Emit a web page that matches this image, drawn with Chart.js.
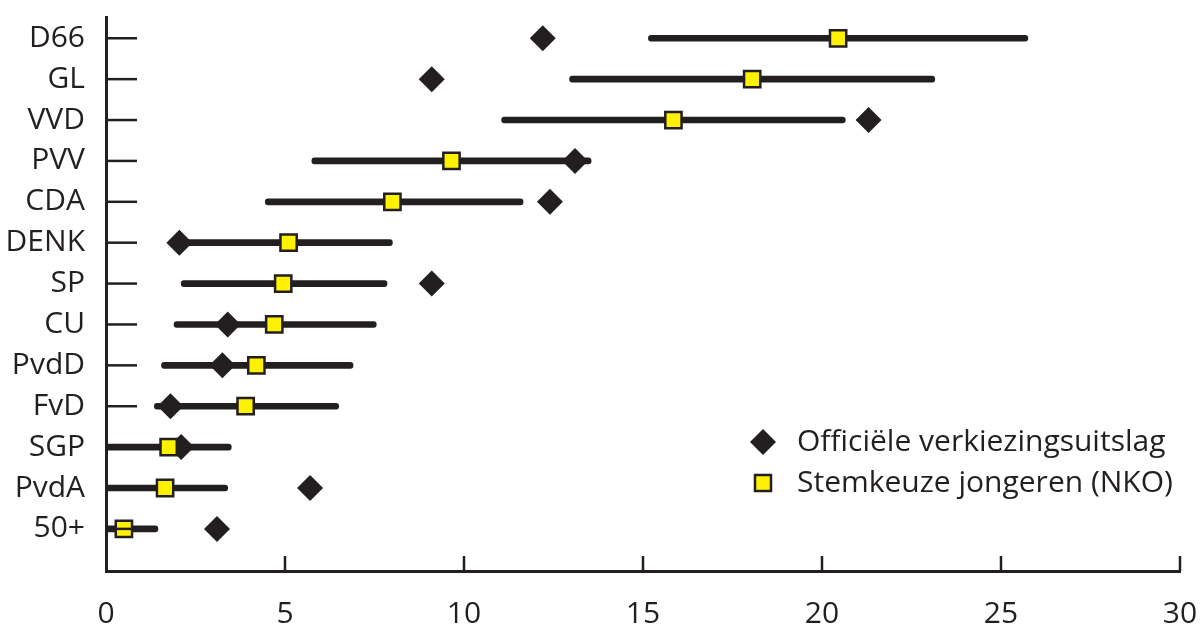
<!DOCTYPE html>
<html>
<head>
<meta charset="utf-8">
<script src="https://cdn.jsdelivr.net/npm/chart.js@4/dist/chart.umd.min.js"></script>
<style>
  html, body { margin: 0; padding: 0; background: #ffffff; }
  #wrap { width: 1200px; height: 626px; }
</style>
</head>
<body>
<div id="wrap"><canvas id="chart"></canvas></div>
<script>
// parties, top to bottom
const parties = ["D66", "GL", "VVD", "PVV", "CDA", "DENK", "SP", "CU", "PvdD", "FvD", "SGP", "PvdA", "50+"];
// official election result (%)
const officieel = [12.2, 9.1, 21.3, 13.1, 12.4, 2.05, 9.1, 3.4, 3.25, 1.8, 2.1, 5.7, 3.1];
// vote choice of young people, NKO (%)
const jongeren = [20.45, 18.05, 15.85, 9.65, 8.0, 5.1, 4.95, 4.7, 4.2, 3.9, 1.75, 1.65, 0.5];
// confidence interval of the NKO estimate
const ciLow = [15.15, 12.95, 11.05, 5.75, 4.45, 2.05, 2.1, 1.9, 1.55, 1.35, 0.0, 0.0, 0.0];
const ciHigh = [25.75, 23.15, 20.65, 13.55, 11.65, 8.0, 7.85, 7.55, 6.9, 6.5, 3.5, 3.4, 1.45];
const xTicks = [0, 5, 10, 15, 20, 25, 30];

const INK = '#231f20';
const YELLOW = '#fff200';
const FONT = '"Open Sans", "Noto Sans", sans-serif';

// ticks drawn inward from the axes
const innerTicksPlugin = {
  id: 'innerTicks',
  afterDraw(chart) {
    const { ctx, chartArea, scales } = chart;
    ctx.save();
    ctx.strokeStyle = INK;
    ctx.lineWidth = 2.5;
    parties.forEach((p, i) => {
      const y = scales.y.getPixelForValue(i);
      ctx.beginPath();
      ctx.moveTo(chartArea.left, y);
      ctx.lineTo(chartArea.left + 31, y);
      ctx.stroke();
    });
    xTicks.slice(1).forEach((v) => {
      const x = scales.x.getPixelForValue(v);
      ctx.beginPath();
      ctx.moveTo(x, chartArea.bottom);
      ctx.lineTo(x, chartArea.bottom - 15);
      ctx.stroke();
    });
    ctx.restore();
  }
};

// legend in the lower right of the plot area
const legendPlugin = {
  id: 'cornerLegend',
  afterDraw(chart) {
    const ctx = chart.ctx;
    const items = [
      { label: chart.data.datasets[1].label, style: 'diamond', y: 442 },
      { label: chart.data.datasets[0].label, style: 'square', y: 483 }
    ];
    const mx = 763;
    ctx.save();
    items.forEach((it) => {
      if (it.style === 'diamond') {
        ctx.fillStyle = INK;
        ctx.beginPath();
        ctx.moveTo(mx, it.y - 13);
        ctx.lineTo(mx + 13, it.y);
        ctx.lineTo(mx, it.y + 13);
        ctx.lineTo(mx - 13, it.y);
        ctx.closePath();
        ctx.fill();
      } else {
        ctx.fillStyle = YELLOW;
        ctx.strokeStyle = INK;
        ctx.lineWidth = 2.5;
        ctx.fillRect(mx - 8, it.y - 8, 16, 16);
        ctx.strokeRect(mx - 8, it.y - 8, 16, 16);
      }
      ctx.fillStyle = INK;
      ctx.font = `30px ${FONT}`;
      ctx.textAlign = 'left';
      ctx.textBaseline = 'middle';
      ctx.fillText(it.label, 797, it.y);
    });
    ctx.restore();
  }
};

const config = {
  type: 'bar',
  data: {
    datasets: [
      {
        type: 'scatter',
        label: 'Stemkeuze jongeren (NKO)',
        data: jongeren.map((v, i) => ({ x: v, y: i })),
        pointStyle: 'rect',
        pointRadius: 11.5,
        pointHoverRadius: 11.5,
        backgroundColor: YELLOW,
        borderColor: INK,
        borderWidth: 2.5,
        order: 0
      },
      {
        type: 'scatter',
        label: 'Officiële verkiezingsuitslag',
        data: officieel.map((v, i) => ({ x: v, y: i })),
        pointStyle: 'rectRot',
        pointRadius: 13,
        pointHoverRadius: 13,
        backgroundColor: INK,
        borderColor: INK,
        borderWidth: 0,
        order: 1
      },
      {
        type: 'bar',
        label: 'Betrouwbaarheidsinterval',
        indexAxis: 'y',
        data: ciLow.map((lo, i) => ({ x: [lo, ciHigh[i]], y: i })),
        backgroundColor: INK,
        barThickness: 6,
        borderRadius: 3,
        borderSkipped: false,
        grouped: false,
        order: 2
      }
    ]
  },
  options: {
    responsive: true,
    maintainAspectRatio: false,
    animation: false,
    events: [],
    layout: { padding: { top: 17, right: 20, left: 0, bottom: 0 } },
    plugins: {
      legend: { display: false },
      tooltip: { enabled: false },
      title: { display: false }
    },
    scales: {
      x: {
        type: 'linear',
        offset: false,
        min: 0,
        max: 30,
        afterBuildTicks: (scale) => { scale.ticks = xTicks.map((v) => ({ value: v })); },
        afterFit: (scale) => {
          scale.height = 55;
          scale.paddingLeft = 0;
          scale.paddingRight = 0;
        },
        grid: { display: false, drawTicks: false, offset: false },
        border: { display: true, color: INK, width: 3 },
        ticks: { color: INK, font: { family: FONT, size: 30 }, padding: 25, maxRotation: 0 }
      },
      y: {
        type: 'linear',
        offset: false,
        reverse: true,
        min: -0.52,
        max: 13.03,
        afterBuildTicks: (scale) => { scale.ticks = parties.map((_, i) => ({ value: i })); },
        afterFit: (scale) => {
          scale.width = 106;
          scale.paddingTop = 0;
          scale.paddingBottom = 0;
        },
        grid: { display: false, drawTicks: false, offset: false },
        border: { display: true, color: INK, width: 3 },
        ticks: { color: INK, font: { family: FONT, size: 30 }, padding: 21, callback: (v) => parties[v] }
      }
    }
  },
  plugins: [innerTicksPlugin, legendPlugin]
};

const chart = new Chart(document.getElementById('chart').getContext('2d'), config);
</script>
</body>
</html>
